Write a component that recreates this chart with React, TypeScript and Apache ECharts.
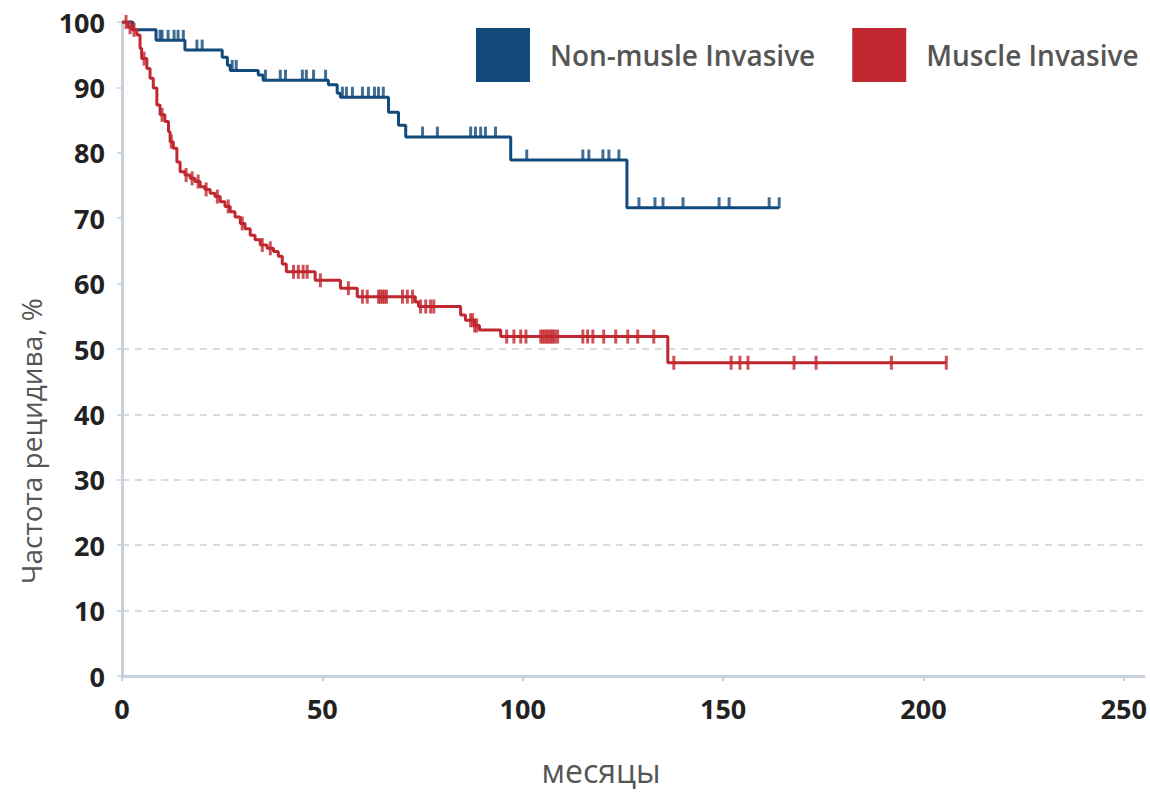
import React, { useEffect, useRef } from "react";
import * as echarts from "echarts";

// Non-muscle invasive: event times (months) and survival (%) after each step
const nmiTimes = [0, 2.7, 8.5, 15.7, 25, 26.3, 27, 34, 35.2, 51.5, 53.7, 54.5, 66.5, 69, 70.8, 97, 126];
const nmiValues = [100, 98.8, 97.2, 95.7, 94.6, 93.4, 92.6, 91.9, 91.1, 90.4, 89.1, 88.5, 86.2, 84.2, 82.4, 78.9, 71.6];
const nmiEnd = 164;
const nmiCensored = [9.5, 10, 11.5, 13, 14, 15.3, 18.7, 20, 27.5, 28.5, 35.8, 39.5, 40.8, 45, 46, 47.8, 50.8, 55, 56, 57.5, 60, 61.5, 63, 64, 65.2, 75, 78.7, 87, 88.2, 89.5, 90.7, 93.2, 101, 115, 116.5, 120, 121.5, 124, 129, 133, 135, 140, 149, 151.5, 161.5, 164];

// Muscle invasive
const miTimes = [0, 1.5, 2.5, 3.7, 4.5, 4.9, 6.2, 7.0, 7.8, 8.7, 9.5, 10.7, 11.6, 12.0, 12.8, 13.7, 14.5, 15.7, 17, 18.2, 19.5, 20.7, 22, 23.2, 24.5, 25.7, 27, 28.2, 29.5, 30.7, 32, 33.2, 34.5, 36.2, 37.8, 39, 40, 41, 48.2, 54.5, 58.7, 73.2, 74.0, 84.5, 85.7, 88, 89.2, 94.5, 136.2];
const miValues = [100, 99.2, 98.8, 98.0, 96.0, 94.4, 92.9, 91.4, 89.9, 87.3, 85.8, 84.8, 83.2, 81.7, 80.7, 78.6, 77.1, 76.6, 76.1, 75.6, 74.8, 74.4, 73.8, 73.3, 72.5, 71.8, 71.0, 70.2, 69.2, 68.4, 67.4, 66.7, 65.9, 65.4, 64.9, 64.2, 63.0, 61.8, 60.5, 59.3, 58.0, 57.2, 56.5, 55.2, 54.4, 53.6, 52.9, 51.9, 47.9];
const miEnd = 205.7;
const miCensored = [1, 2, 3, 5.5, 10, 12.3, 16, 17.5, 19, 21, 23.8, 26.5, 30, 35, 37, 42.8, 44, 45.2, 46.2, 49.5, 56.5, 60, 61.2, 64, 64.5, 65, 65.5, 66, 70, 71.2, 72.5, 74.5, 75.8, 77, 77.8, 87, 87.5, 88, 88.5, 96, 97.8, 99.5, 100.8, 104.5, 105, 105.5, 106, 106.5, 107, 107.5, 108, 108.7, 115, 116.2, 117.5, 120.2, 123.2, 126.2, 128.7, 132.7, 137.7, 152, 154.2, 156.2, 167.7, 173.2, 192, 205.7];

const seriesNames = ["Non-musle Invasive", "Muscle Invasive"];
const xTicks = { min: 0, max: 255, interval: 50 };
const yTicks = { min: 0, max: 100, interval: 10 };

const BLUE = "#134a7c";
const RED = "#c0272f";

function stepData(times: number[], values: number[], end: number) {
  const d = times.map((t, i) => [t, values[i]]);
  d.push([end, values[values.length - 1]]);
  return d;
}
function survAt(times: number[], values: number[], t: number) {
  let v = values[0];
  for (let i = 0; i < times.length; i++) if (times[i] <= t) v = values[i];
  return v;
}

export default function App() {
  const ref = useRef<HTMLDivElement>(null);
  useEffect(() => {
    const chart = echarts.init(ref.current!, null, { renderer: "svg" });
    const font = "'Open Sans', 'Noto Sans', sans-serif";
    const gridColors = ["transparent", "#cfcfcf", "#cfcfcf", "#cfcfcf", "#cfcfcf", "#cfcfcf", "transparent", "transparent", "transparent", "transparent", "transparent"];
    chart.setOption({
      animation: false,
      backgroundColor: "#ffffff",
      grid: { left: 122, top: 22, right: 6, height: 654 },
      legend: {
        data: seriesNames,
        left: 476,
        top: 28,
        padding: 0,
        icon: "rect",
        itemWidth: 54,
        itemHeight: 54,
        itemGap: 37,
        textStyle: { fontFamily: font, fontSize: 28, fontWeight: 600, color: "#555", padding: [0, 0, 0, 15] },
      },
      xAxis: {
        type: "value",
        min: xTicks.min,
        max: xTicks.max,
        interval: xTicks.interval,
        axisLine: { show: true, lineStyle: { color: "#c6d1db", width: 3 } },
        axisTick: { show: true, length: 5, lineStyle: { color: "#c6d1db", width: 2 } },
        axisLabel: { showMaxLabel: false, margin: 19, fontFamily: font, fontSize: 27, fontWeight: "bold", color: "#222" },
        splitLine: { show: false },
      },
      yAxis: {
        type: "value",
        min: yTicks.min,
        max: yTicks.max,
        interval: yTicks.interval,
        axisLine: { show: true, lineStyle: { color: "#c6d1db", width: 3 } },
        axisTick: { show: true, length: 5, lineStyle: { color: "#c6d1db", width: 1.5 } },
        axisLabel: { margin: 17, fontFamily: font, fontSize: 27, fontWeight: "bold", color: "#222" },
        splitLine: { show: true, lineStyle: { type: [7, 6], width: 1.5, color: gridColors } },
      },
      graphic: [
        {
          type: "text",
          x: 31,
          y: 441,
          rotation: Math.PI / 2,
          style: { text: "Частота рецидива, %", fontFamily: font, fontSize: 28, fill: "#555", align: "center", verticalAlign: "middle" },
        },
        {
          type: "text",
          x: 601,
          y: 770,
          style: { text: "месяцы", fontFamily: font, fontSize: 32, fill: "#555", align: "center", verticalAlign: "middle" },
        },
      ],
      series: [
        {
          name: seriesNames[0],
          type: "line",
          step: "end",
          showSymbol: false,
          color: BLUE,
          lineStyle: { width: 3, color: BLUE },
          data: stepData(nmiTimes, nmiValues, nmiEnd),
          z: 3,
        },
        {
          name: "nmi-censored",
          type: "scatter",
          symbol: "rect",
          symbolSize: [3, 11],
          symbolOffset: [0, -5],
          itemStyle: { color: BLUE },
          data: nmiCensored.map((t) => [t, survAt(nmiTimes, nmiValues, t)]),
          z: 3,
        },
        {
          name: seriesNames[1],
          type: "line",
          step: "end",
          showSymbol: false,
          color: RED,
          lineStyle: { width: 3, color: RED },
          data: stepData(miTimes, miValues, miEnd),
          z: 4,
        },
        {
          name: "mi-censored",
          type: "scatter",
          symbol: "rect",
          symbolSize: [3, 14],
          itemStyle: { color: RED },
          data: miCensored.map((t) => [t, survAt(miTimes, miValues, t)]),
          z: 4,
        },
      ],
    });
    return () => chart.dispose();
  }, []);
  return <div ref={ref} style={{ position: "fixed", left: 0, top: 0, width: 1150, height: 792 }} />;
}
